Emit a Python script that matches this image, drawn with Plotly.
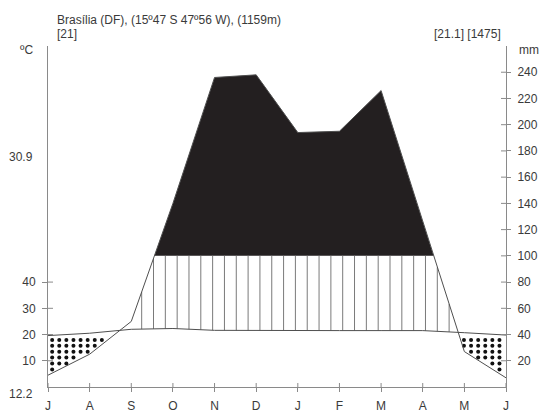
import numpy as np
import plotly.graph_objects as go

# ---- data ----
month_labels = ["J", "A", "S", "O", "N", "D", "J", "F", "M", "A", "M", "J"]
temperature_c = [19.6, 20.5, 22.0, 22.3, 21.6, 21.5, 21.5, 21.5, 21.5, 21.5, 20.7, 19.8]
precipitation_mm = [9.0, 25.0, 50.0, 140.0, 236.0, 238.0, 194.0, 195.0, 226.0, 126.0, 27.0, 7.0]
right_ticks_mm = [20, 40, 60, 80, 100, 120, 140, 160, 180, 200, 220, 240]
left_ticks_c = [10, 20, 30, 40]
title_line1 = "Brasília (DF), (15º47 S 47º56 W), (1159m)"
title_line2 = "[21]"
title_right = "[21.1] [1475]"
max_label = "30.9"
min_label = "12.2"

# ---- derived ----
W, H = 539, 412
ML, MR, MT, MB = 48, 33, 46, 25
PW, PH = W - ML - MR, H - MT - MB
YMAX = 260

xi = np.arange(len(month_labels))
T2 = np.array(temperature_c) * 2.0          # 10 C = 20 mm
P = np.array(precipitation_mm, dtype=float)

LINE = "#4f4f4f"
AX = "#8a8a8a"
TXT = "#3a3a3a"
FONT = "Liberation Sans, Arial, sans-serif"

fig = go.Figure()

# black region (precip > 100): exact polygon(s) from piecewise-linear data
segs = []
cur = None
for i in range(len(P)):
    if P[i] >= 100:
        if cur is None:
            if i > 0 and P[i - 1] < 100:
                xc = (i - 1) + (100 - P[i - 1]) / (P[i] - P[i - 1])
                cur = [(xc, 100.0)]
            else:
                cur = [(float(i), 100.0)]
        cur.append((float(i), P[i]))
    else:
        if cur is not None:
            xc = (i - 1) + (100 - P[i - 1]) / (P[i] - P[i - 1])
            cur.append((xc, 100.0))
            segs.append(cur)
            cur = None
if cur is not None:
    cur.append((cur[-1][0], 100.0))
    segs.append(cur)
for s in segs:
    fig.add_trace(go.Scatter(x=[p[0] for p in s], y=[p[1] for p in s], mode="lines",
                             fill="toself", fillcolor="#231f20", line=dict(width=0),
                             hoverinfo="skip", showlegend=False))

# vertical hatching (humid)
hx, hy = [], []
for x in np.arange(2.25, 11, 0.284):
    t = np.interp(x, xi, T2)
    p = np.interp(x, xi, P)
    if p > t + 1:
        hx += [x, x, None]
        hy += [t, min(p, 100.0), None]
fig.add_trace(go.Scatter(x=hx, y=hy, mode="lines", line=dict(color="#7a7a7a", width=1),
                         hoverinfo="skip", showlegend=False))

# dotted region (arid)
dx, dy = [], []
xs_step = 7.1 / PW * 11
for x in np.arange(0.1, 11, xs_step):
    t = np.interp(x, xi, T2)
    p = np.interp(x, xi, P)
    for y in np.arange(4.4, 40, 4.5):
        if p + 1.2 < y < t - 1.6:
            dx.append(x)
            dy.append(y)
fig.add_trace(go.Scatter(x=dx, y=dy, mode="markers",
                         marker=dict(color="#111111", size=4, line=dict(width=0)),
                         hoverinfo="skip", showlegend=False))

# temperature and precipitation lines
fig.add_trace(go.Scatter(x=xi, y=T2, mode="lines",
                         line=dict(color=LINE, width=1), hoverinfo="skip", showlegend=False))
fig.add_trace(go.Scatter(x=xi, y=P, mode="lines",
                         line=dict(color=LINE, width=1), hoverinfo="skip", showlegend=False))

# right axis carrier
fig.add_trace(go.Scatter(x=[0], y=[0], yaxis="y2", mode="markers",
                         marker=dict(opacity=0), hoverinfo="skip", showlegend=False))

shapes = []
for i in xi:
    shapes.append(dict(type="line", xref="x", yref="paper", x0=i, x1=i, y0=0, y1=4 / PH,
                       line=dict(color=AX, width=1)))
for v in left_ticks_c:
    shapes.append(dict(type="line", xref="paper", yref="y", x0=0, x1=5 / PW, y0=v * 2, y1=v * 2,
                       line=dict(color=AX, width=1)))
for v in right_ticks_mm:
    shapes.append(dict(type="line", xref="paper", yref="y", x0=1 - 5 / PW, x1=1, y0=v, y1=v,
                       line=dict(color=AX, width=1)))


def px_x(px):
    return (px - ML) / PW


def px_y(py):
    return (H - MB - py) / PH


annotations = [
    dict(text=title_line1, x=px_x(55), y=px_y(20), xanchor="left", yanchor="middle"),
    dict(text=title_line2, x=px_x(55), y=px_y(34), xanchor="left", yanchor="middle"),
    dict(text=title_right, x=px_x(503), y=px_y(34), xanchor="right", yanchor="middle"),
    dict(text="ºC", x=px_x(35), y=px_y(50), xanchor="right", yanchor="middle"),
    dict(text="mm", x=px_x(517), y=px_y(50), xanchor="left", yanchor="middle"),
    dict(text=max_label, x=px_x(35), y=px_y(157), xanchor="right", yanchor="middle"),
    dict(text=min_label, x=px_x(35), y=px_y(394), xanchor="right", yanchor="middle"),
]
for a in annotations:
    a.update(xref="paper", yref="paper", showarrow=False, font=dict(size=12, color=TXT, family=FONT))

fig.update_layout(
    template="none",
    width=W, height=H,
    margin=dict(l=ML, r=MR, t=MT, b=MB, pad=0),
    paper_bgcolor="white", plot_bgcolor="white",
    font=dict(family=FONT, size=12, color=TXT),
    showlegend=False,
    xaxis=dict(range=[0, 11], tickvals=list(xi), ticktext=month_labels, showgrid=False,
               automargin=False,
               zeroline=False, showline=True, linecolor=AX, linewidth=1,
               ticks="outside", ticklen=4, tickcolor=AX, ticklabelstandoff=4,
               tickfont=dict(size=12, color=TXT)),
    yaxis=dict(range=[0, YMAX], tickvals=[v * 2 for v in left_ticks_c], automargin=False,
               ticktext=[str(v) for v in left_ticks_c], showgrid=False, zeroline=False,
               showline=True, linecolor=AX, linewidth=1, ticks="outside", ticklen=5,
               tickcolor=AX, ticklabelstandoff=4, tickfont=dict(size=12, color=TXT)),
    yaxis2=dict(range=[0, YMAX], overlaying="y", side="right", tickvals=right_ticks_mm,
                automargin=False,
                showgrid=False, zeroline=False, showline=True, linecolor=AX, linewidth=1,
                ticks="outside", ticklen=4, tickcolor=AX, ticklabelstandoff=4,
                tickfont=dict(size=12, color=TXT)),
    shapes=shapes,
    annotations=annotations,
)

fig.write_html("out.html", config={"displayModeBar": False},
               post_script="document.body.style.margin='0';document.body.style.overflow='hidden';")
